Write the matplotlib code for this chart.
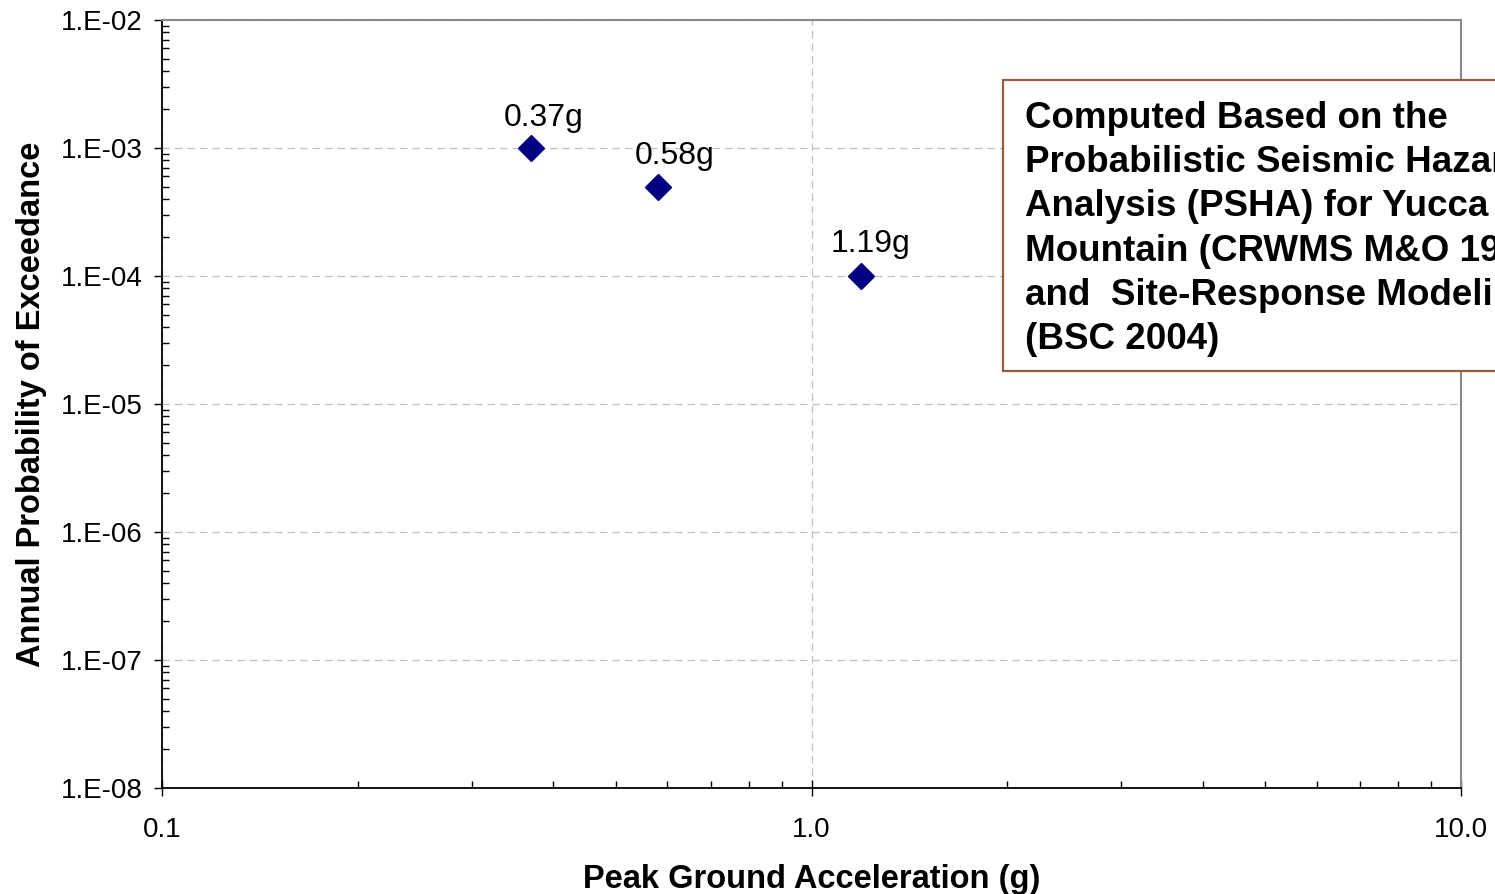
#!/usr/bin/env python3
"""Annual probability of exceedance vs peak ground acceleration (log-log)."""

import matplotlib
matplotlib.use("Agg")
import matplotlib.pyplot as plt
from matplotlib.patches import Rectangle
from matplotlib.ticker import FixedLocator, FixedFormatter, LogLocator, NullFormatter

# Data
PGA = [0.37, 0.58, 1.19]
PROB = [1e-3, 5e-4, 1e-4]
POINT_LABELS = ["0.37g", "0.58g", "1.19g"]

X_TICKS = [0.1, 1.0, 10.0]
X_TICK_LABELS = ["0.1", "1.0", "10.0"]
Y_TICKS = [1e-8, 1e-7, 1e-6, 1e-5, 1e-4, 1e-3, 1e-2]
Y_TICK_LABELS = ["1.E-08", "1.E-07", "1.E-06", "1.E-05", "1.E-04", "1.E-03", "1.E-02"]

BOX_TEXT = ("Computed Based on the\n"
            "Probabilistic Seismic Hazard\n"
            "Analysis (PSHA) for Yucca\n"
            "Mountain (CRWMS M&O 1998)\n"
            "and  Site-Response Modeling\n"
            "(BSC 2004)")

plt.rcParams["font.family"] = ["Liberation Sans", "DejaVu Sans"]

W, H, DPI = 1495, 894, 100
fig = plt.figure(figsize=(W / DPI, H / DPI), dpi=DPI)
ax = fig.add_axes([162 / W, 1 - 788 / H, (1461 - 162) / W, (788 - 20) / H])

ax.set_xscale("log")
ax.set_yscale("log")
ax.set_xlim(0.1, 10.0)
ax.set_ylim(1e-8, 1e-2)

ax.plot(PGA, PROB, linestyle="none", marker="D", markersize=13,
        color="#000080", zorder=5, clip_on=False)

offsets = [(9, 16), (12, 16), (7, 17)]
for x, y, lab, off in zip(PGA, PROB, POINT_LABELS, offsets):
    ax.annotate(lab, (x, y), xytext=off, textcoords="offset points",
                ha="center", va="baseline", fontsize=23, color="black")

# ticks
ax.xaxis.set_major_locator(FixedLocator(X_TICKS))
ax.xaxis.set_major_formatter(FixedFormatter(X_TICK_LABELS))
ax.yaxis.set_major_locator(FixedLocator(Y_TICKS))
ax.yaxis.set_major_formatter(FixedFormatter(Y_TICK_LABELS))
ax.xaxis.set_minor_locator(LogLocator(base=10, subs=range(2, 10)))
ax.yaxis.set_minor_locator(LogLocator(base=10, subs=range(2, 10)))
ax.xaxis.set_minor_formatter(NullFormatter())
ax.yaxis.set_minor_formatter(NullFormatter())

ax.tick_params(axis="y", which="major", direction="out", length=6, width=1,
               labelsize=20, pad=8)
ax.tick_params(axis="x", which="major", direction="inout", length=12, width=1,
               labelsize=20, pad=15)
ax.tick_params(which="minor", direction="in", length=5, width=1)

ax.grid(True, which="major", linestyle=(0, (6, 4)), color="#bfbfbf", linewidth=0.9)
ax.set_axisbelow(True)

for side in ("top", "right"):
    ax.spines[side].set_color("#888888")
    ax.spines[side].set_linewidth(1.5)
for side in ("left", "bottom"):
    ax.spines[side].set_color("black")
    ax.spines[side].set_linewidth(1.3)

ax.set_xlabel("Peak Ground Acceleration (g)", fontsize=23.5, fontweight="bold", labelpad=15)
ax.set_ylabel("Annual Probability of Exceedance", fontsize=23.5, fontweight="bold", labelpad=10)

# annotation box, runs off the right edge of the figure
box = Rectangle((1003 / W, 1 - 371 / H), 700 / W, (371 - 80) / H,
                transform=fig.transFigure, facecolor="white",
                edgecolor="#9C5B47", linewidth=1.6, zorder=10)
fig.add_artist(box)
fig.text(1025 / W, 1 - 101 / H, BOX_TEXT, fontsize=26.5, fontweight="bold",
         ha="left", va="top", linespacing=1.34, zorder=11)

fig.savefig("out.png", dpi=DPI)
